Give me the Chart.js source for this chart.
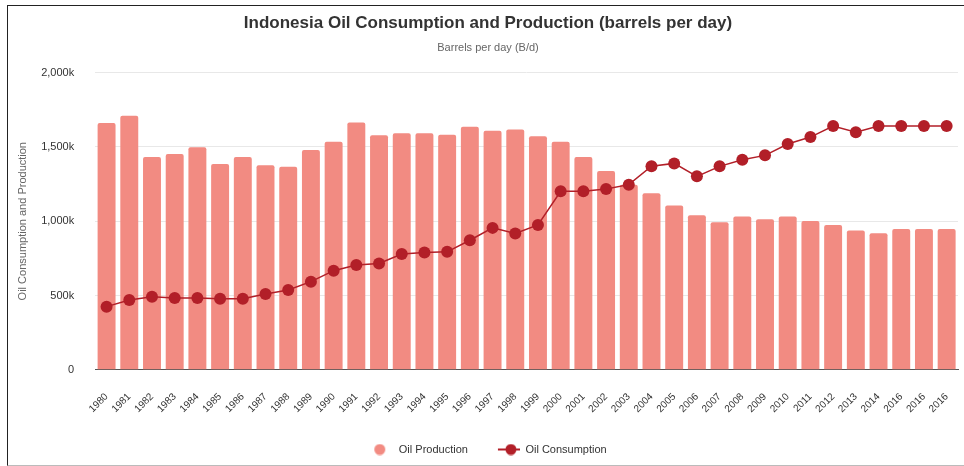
<!DOCTYPE html>
<html>
<head>
<meta charset="utf-8">
<script src="https://cdn.jsdelivr.net/npm/chart.js@4.4.1/dist/chart.umd.min.js"></script>
<style>
  html, body { margin: 0; padding: 0; background: #fff; overflow: hidden; }
  #frame {
    position: absolute; left: 7px; top: 5px;
    width: 957px; height: 461px;
    border-top: 1px solid #222; border-left: 1px solid #222;
    border-bottom: 1px solid #bbb;
    box-sizing: border-box;
  }
  #wrap { position: absolute; left: 0; top: 0; right: 0; bottom: 0; }
</style>
</head>
<body>
<div id="frame"><div id="wrap"><canvas id="chart"></canvas></div></div>
<script>
// Years as printed on the axis (the source repeats 2016)
const years = [
  '1980', '1981', '1982', '1983', '1984', '1985', '1986', '1987', '1988', '1989',
  '1990', '1991', '1992', '1993', '1994', '1995', '1996', '1997', '1998', '1999',
  '2000', '2001', '2002', '2003', '2004', '2005', '2006', '2007', '2008', '2009',
  '2010', '2011', '2012', '2013', '2014', '2016', '2016', '2016'
];

// Thousand barrels per day
const oilProduction = [
  1660, 1710, 1432, 1452, 1497, 1385, 1432, 1376, 1367, 1479,
  1535, 1664, 1579, 1591, 1591, 1581, 1636, 1608, 1617, 1572,
  1535, 1432, 1338, 1245, 1188, 1105, 1040, 993, 1031, 1013,
  1031, 1002, 975, 937, 919, 948, 948, 948
];

const oilConsumption = [
  425, 470, 492, 483, 483, 478, 478, 510, 537, 593,
  667, 705, 716, 779, 790, 794, 872, 955, 917, 975,
  1201, 1201, 1217, 1246, 1370, 1389, 1302, 1369, 1414, 1443,
  1519, 1566, 1640, 1599, 1640, 1640, 1640, 1640
];

const yTicks = [0, 500, 1000, 1500, 2000];

const barColor = '#f28b82';
const lineColor = '#b21f28';

// legend icons: both ICON_W wide (= pointStyleWidth), the marks sit right of centre
// so the gap between the two legend items comes out wide like the original
const ICON_W = 44;
function dotIcon(color) {
  const c = document.createElement('canvas');
  c.width = ICON_W; c.height = 12;
  const g = c.getContext('2d');
  g.fillStyle = color;
  g.beginPath(); g.arc(30.5, 6, 5.5, 0, Math.PI * 2); g.fill();
  return c;
}
function lineDotIcon(color) {
  const c = document.createElement('canvas');
  c.width = ICON_W; c.height = 12;
  const g = c.getContext('2d');
  g.strokeStyle = color; g.lineWidth = 2;
  g.beginPath(); g.moveTo(22, 6); g.lineTo(ICON_W, 6); g.stroke();
  g.fillStyle = color;
  g.beginPath(); g.arc(35, 6, 5.5, 0, Math.PI * 2); g.fill();
  return c;
}
const legendIcons = [dotIcon(barColor), lineDotIcon(lineColor)];

// the original legend sits a little left of centre
const legendNudge = {
  id: 'legendNudge',
  afterLayout(chart) {
    if (chart.legend) { chart.legend.left -= 10; chart.legend.right -= 10; }
  }
};

const fontFamily = '"Liberation Sans", Arial, Helvetica, sans-serif';

new Chart(document.getElementById('chart'), {
  data: {
    labels: years,
    datasets: [
      {
        type: 'line',
        label: 'Oil Consumption',
        data: oilConsumption,
        borderColor: lineColor,
        backgroundColor: lineColor,
        borderWidth: 1.5,
        pointRadius: 6,
        pointHoverRadius: 6,
        pointBorderWidth: 0,
        tension: 0,
        order: 0
      },
      {
        type: 'bar',
        label: 'Oil Production',
        data: oilProduction,
        backgroundColor: barColor,
        borderRadius: 2,
        categoryPercentage: 1,
        barPercentage: 0.79,
        order: 1
      }
    ]
  },
  plugins: [legendNudge],
  options: {
    responsive: true,
    maintainAspectRatio: false,
    animation: false,
    layout: { padding: { left: 8, right: 4, top: 0, bottom: 0 } },
    scales: {
      x: {
        grid: { display: false, drawTicks: false },
        border: { display: true, color: '#555', width: 1 },
        // rotated labels hang to the left, no room needed on the right
        afterFit: s => { s.paddingRight = 0; },
        ticks: {
          color: '#333',
          font: { family: fontFamily, size: 10 },
          minRotation: 45,
          maxRotation: 45,
          autoSkip: false,
          padding: 21
        }
      },
      y: {
        min: 0,
        max: 2000,
        afterBuildTicks: axis => { axis.ticks = yTicks.map(v => ({ value: v })); },
        grid: { color: '#e8e8e8', drawTicks: false },
        border: { display: false },
        ticks: {
          color: '#333',
          padding: 21,
          font: { family: fontFamily, size: 11 },
          callback: v => v === 0 ? '0' : v.toLocaleString('en-US') + 'k'
        },
        title: {
          display: true,
          text: 'Oil Consumption and Production',
          color: '#666',
          font: { family: fontFamily, size: 11 },
          padding: { top: 0, bottom: -9 }
        }
      }
    },
    plugins: {
      title: {
        display: true,
        text: 'Indonesia Oil Consumption and Production (barrels per day)',
        color: '#333',
        font: { family: fontFamily, size: 17, weight: 'bold' },
        padding: { top: 7, bottom: 8 }
      },
      subtitle: {
        display: true,
        text: 'Barrels per day (B/d)',
        color: '#666',
        font: { family: fontFamily, size: 11 },
        padding: { bottom: 18 }
      },
      legend: {
        position: 'bottom',
        reverse: true,
        labels: {
          usePointStyle: true,
          pointStyleWidth: ICON_W,
          color: '#333',
          font: { family: fontFamily, size: 11 },
          padding: 8,
          generateLabels: chart => chart.data.datasets.map((ds, i) => ({
            text: ds.label,
            pointStyle: legendIcons[i === 0 ? 1 : 0],
            fillStyle: ds.backgroundColor,
            strokeStyle: ds.backgroundColor,
            lineWidth: 0,
            hidden: false,
            datasetIndex: i,
            fontColor: '#333'
          }))
        }
      },
      tooltip: { enabled: false }
    }
  }
});
</script>
</body>
</html>
